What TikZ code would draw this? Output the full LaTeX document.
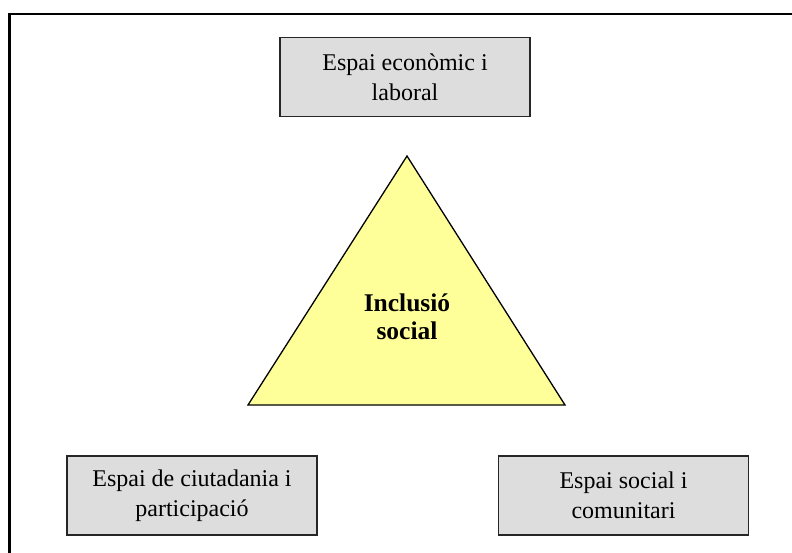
\documentclass[tikz,border=0pt]{standalone}
\usepackage{fontspec}
\setmainfont{Liberation Serif}
\definecolor{boxgray}{RGB}{221,221,221}
\definecolor{triyellow}{RGB}{255,255,153}
\tikzset{
  spacebox/.style={draw=black!85, line width=1.5pt, fill=boxgray, minimum width=250pt, minimum height=79pt, inner sep=0pt, align=center, font=\fontsize{24}{30}\selectfont},
  frameline/.style={draw=black, line width=2.2pt},
  tri/.style={draw=black, line width=1.3pt, fill=triyellow, line join=miter},
}
\begin{document}
\begin{tikzpicture}[x=1pt,y=-1pt]
\useasboundingbox (0,0) rectangle (792,552);
\clip (0,0) rectangle (792,552);
\fill[white] (0,0) rectangle (792,552);
\draw[frameline] (9.5,14) rectangle (820,580);
\coordinate (apex) at (407,156);
\coordinate (bl) at (248,405);
\coordinate (br) at (565,405);
\draw[tri] (apex) -- (bl) -- (br) -- cycle;
\node[font=\fontsize{25.5}{28.5}\selectfont\bfseries, align=center] (inc) at (407,317) {Inclusió\\social};
\node[spacebox] (eco) at (405,77) {Espai econòmic i\\laboral};
\node[spacebox] (ciu) at (192,495.5) {Espai de ciutadania i\\participació};
\node[spacebox] (soc) at (623.5,495.5) {Espai social i\\comunitari};
\end{tikzpicture}
\end{document}
